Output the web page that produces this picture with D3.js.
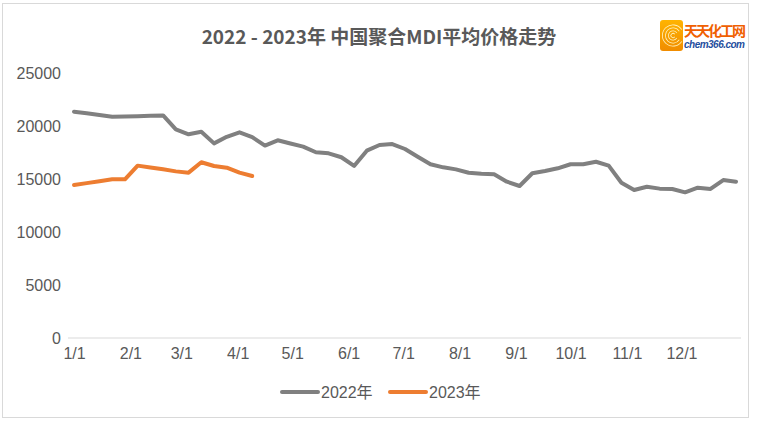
<!DOCTYPE html>
<html>
<head>
<meta charset="utf-8">
<script src="https://cdn.jsdelivr.net/npm/d3@7"></script>
<style>
  body { margin: 0; background: #fff; }
  svg text { font-family: "Liberation Sans", Arial, sans-serif; }
</style>
</head>
<body>
<svg id="chart" width="757" height="421"></svg>
<script>
'use strict';

// weekly sample dates (month-day, both years share the same axis)
var dates = ['01-01', '01-08', '01-15', '01-22', '01-29', '02-05', '02-12', '02-19', '02-26',
    '03-05', '03-12', '03-19', '03-26', '04-02', '04-09', '04-16', '04-23', '04-30',
    '05-07', '05-14', '05-21', '05-28', '06-04', '06-11', '06-18', '06-25',
    '07-02', '07-09', '07-16', '07-23', '07-30', '08-06', '08-13', '08-20', '08-27',
    '09-03', '09-10', '09-17', '09-24', '10-01', '10-08', '10-15', '10-22', '10-29',
    '11-05', '11-12', '11-19', '11-26', '12-03', '12-10', '12-17', '12-24', '12-31'];

var price2022 = [21350, 21200, 21040, 20880, 20900, 20930, 20970, 21000, 19690,
    19220, 19460, 18360, 18980, 19400, 18950, 18150, 18650, 18350,
    18050, 17520, 17420, 17050, 16230, 17670, 18210, 18300,
    17830, 17100, 16390, 16100, 15910, 15590, 15500, 15440, 14750,
    14340, 15540, 15750, 16010, 16390, 16390, 16630, 16260, 14650,
    13960, 14270, 14090, 14060, 13740, 14180, 14060, 14900, 14750];

var price2023 = [14430, 14610, 14790, 14970, 14970, 16260, 16080, 15910, 15720,
    15600, 16580, 16230, 16070, 15600, 15280];

var yTicks = [0, 5000, 10000, 15000, 20000, 25000];
var xTickLabels = ['1/1', '2/1', '3/1', '4/1', '5/1', '6/1', '7/1', '8/1', '9/1', '10/1', '11/1', '12/1'];

var seriesNames = ['2022年', '2023年'];
var seriesColors = ['#808080', '#ED7D31'];

var parse = d3.timeParse('%Y-%m-%d');
var parseTick = d3.timeParse('%Y/%m/%d');
function toDate(md) { return parse('2022-' + md); }

var svg = d3.select('#chart');

// chart area border
svg.append('rect')
    .attr('x', 2.5).attr('y', 3.5)
    .attr('width', 746).attr('height', 414)
    .attr('fill', '#fff')
    .attr('stroke', '#d9d9d9');

var x = d3.scaleTime()
    .domain([toDate('01-01'), toDate('12-31')])
    .range([74, 736]);

var y = d3.scaleLinear()
    .domain([0, 25000])
    .range([338, 73]);

// Title
svg.append('text')
    .attr('x', 379).attr('y', 44)
    .attr('text-anchor', 'middle')
    .style('font-family', '"Noto Sans CJK SC", "Liberation Sans", sans-serif')
    .style('font-weight', 'bold')
    .style('font-size', '19px')
    .attr('fill', '#595959')
    .text('2022 - 2023年 中国聚合MDI平均价格走势');

// Y Axis labels
svg.append('g')
    .selectAll('text')
    .data(yTicks)
    .enter().append('text')
    .attr('x', 61)
    .attr('y', function(d) { return y(d); })
    .attr('dy', '0.35em')
    .attr('text-anchor', 'end')
    .style('font-size', '16px')
    .attr('fill', '#595959')
    .text(function(d) { return d; });

// X Axis
var xAxis = svg.append('g')
    .attr('transform', 'translate(0,' + y(0) + ')')
    .call(d3.axisBottom(x)
        .tickValues(xTickLabels.map(function(t) { return parseTick('2022/' + t); }))
        .tickSize(0)
        .tickPadding(10));

xAxis.select('.domain').remove();
xAxis.selectAll('text')
    .style('font-family', '"Liberation Sans", Arial, sans-serif')
    .style('font-size', '16px')
    .attr('fill', '#595959')
    .text(function(d, i) { return xTickLabels[i]; });

// baseline
svg.append('line')
    .attr('x1', 68).attr('x2', 741)
    .attr('y1', y(0)).attr('y2', y(0))
    .attr('stroke', '#d9d9d9')
    .attr('stroke-width', 1);

// Lines
var line = d3.line()
    .x(function(d) { return x(d.date); })
    .y(function(d) { return y(d.value); });

[price2022, price2023].forEach(function(values, k) {
    var pts = values.map(function(v, i) { return {date: toDate(dates[i]), value: v}; });
    svg.append('path')
        .datum(pts)
        .attr('fill', 'none')
        .attr('stroke', seriesColors[k])
        .attr('stroke-width', 4)
        .attr('stroke-linejoin', 'round')
        .attr('stroke-linecap', 'round')
        .attr('d', line);
});

// Legend
var legendX = [282, 390];
seriesNames.forEach(function(name, k) {
    var g = svg.append('g').attr('transform', 'translate(' + legendX[k] + ',392)');
    g.append('line')
        .attr('x1', 0).attr('x2', 36)
        .attr('stroke', seriesColors[k])
        .attr('stroke-width', 4)
        .attr('stroke-linecap', 'round');
    g.append('text')
        .attr('x', 39).attr('dy', '0.35em')
        .style('font-family', '"Liberation Sans", "Noto Sans CJK SC", sans-serif')
        .style('font-size', '16px')
        .attr('fill', '#595959')
        .text(name);
});

// Logo
var logo = svg.append('g').attr('transform', 'translate(660,20)');
var grad = svg.append('defs').append('linearGradient')
    .attr('id', 'logoGrad').attr('x1', 0).attr('y1', 0).attr('x2', 0).attr('y2', 1);
grad.append('stop').attr('offset', '0%').attr('stop-color', '#ffb400');
grad.append('stop').attr('offset', '100%').attr('stop-color', '#f08c00');
logo.append('rect')
    .attr('width', 23).attr('height', 31)
    .attr('rx', 3)
    .attr('fill', 'url(#logoGrad)');
[11, 8, 5, 2.5].forEach(function(r) {
    logo.append('path')
        .attr('d', d3.arc()({innerRadius: r - 0.8, outerRadius: r, startAngle: 0.6, endAngle: 2 * Math.PI - 0.6}))
        .attr('transform', 'translate(13,15.5) rotate(90)')
        .attr('fill', '#fff3c0');
});
logo.append('text')
    .attr('x', 24).attr('y', 16)
    .style('font-family', '"Noto Sans CJK SC", sans-serif')
    .style('font-weight', 'bold')
    .style('font-size', '14px')
    .attr('fill', '#f06000')
    .attr('textLength', 62)
    .text('天天化工网');
logo.append('text')
    .attr('x', 24).attr('y', 28)
    .style('font-family', '"Liberation Sans", Arial, sans-serif')
    .style('font-weight', 'bold')
    .style('font-style', 'italic')
    .style('font-size', '10px')
    .attr('fill', '#1f4e9e')
    .attr('textLength', 61)
    .text('chem366.com');
</script>
</body>
</html>
